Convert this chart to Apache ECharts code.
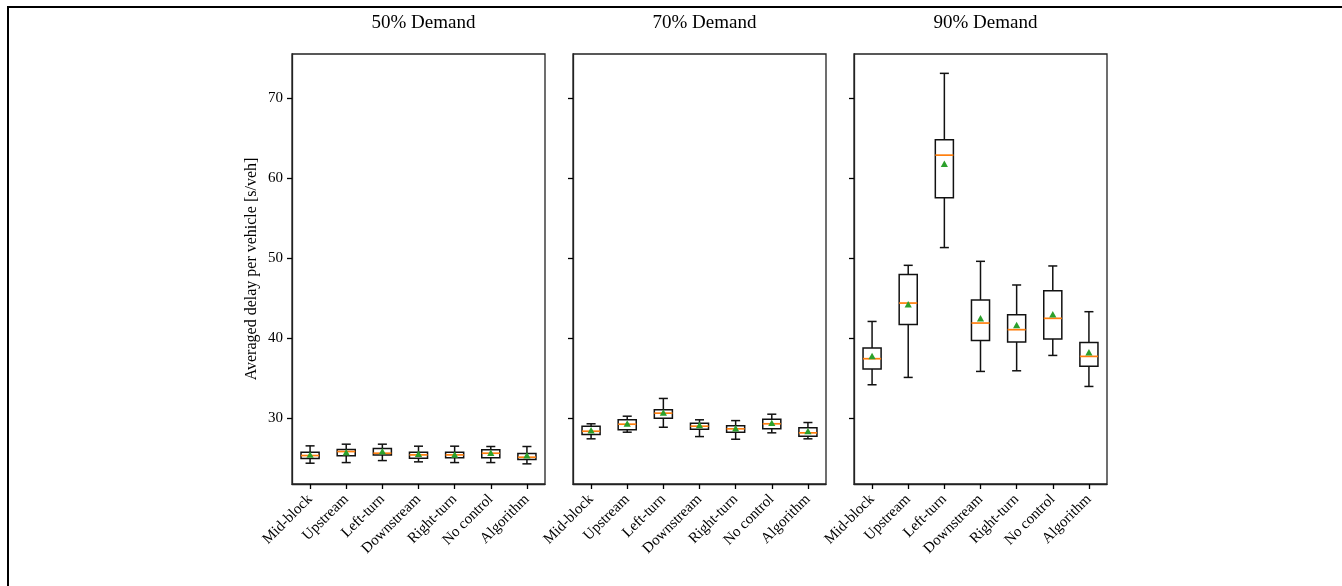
<!DOCTYPE html>
<html>
<head>
<meta charset="utf-8">
<script src="https://cdn.jsdelivr.net/npm/echarts@6/dist/echarts.min.js"></script>
<style>html,body{margin:0;padding:0;background:#fff}#c{width:1342px;height:586px}</style>
</head>
<body>
<div id="c"></div>
<script>
const categories = ['Mid-block','Upstream','Left-turn','Downstream','Right-turn','No control','Algorithm'];
const panelTitles = ['50% Demand','70% Demand','90% Demand'];
const yTicks = [30, 40, 50, 60, 70];

// 50% demand
const lo50   = [24.37, 24.45, 24.70, 24.54, 24.45, 24.45, 24.29];
const q1_50  = [24.95, 25.29, 25.40, 24.99, 25.04, 25.04, 24.83];
const med50  = [25.33, 25.83, 25.62, 25.41, 25.41, 25.62, 25.12];
const q3_50  = [25.74, 26.08, 26.20, 25.74, 25.74, 26.04, 25.58];
const hi50   = [26.54, 26.75, 26.75, 26.50, 26.50, 26.46, 26.46];
const mean50 = [25.40, 25.70, 25.83, 25.50, 25.41, 25.62, 25.33];

// 70% demand
const lo70   = [27.42, 28.25, 28.87, 27.70, 27.37, 28.17, 27.42];
const q1_70  = [27.96, 28.55, 30.00, 28.62, 28.25, 28.67, 27.75];
const med70  = [28.37, 29.25, 30.63, 29.00, 28.67, 29.30, 28.17];
const q3_70  = [29.00, 29.80, 31.05, 29.37, 29.04, 29.87, 28.80];
const hi70   = [29.30, 30.25, 32.47, 29.80, 29.70, 30.50, 29.46];
const mean70 = [28.45, 29.30, 30.67, 29.10, 28.70, 29.37, 28.35];

// 90% demand
const lo90   = [34.18, 35.10, 51.34, 35.85, 35.93, 37.85, 33.97];
const q1_90  = [36.14, 41.73, 57.58, 39.73, 39.52, 39.90, 36.51];
const med90  = [37.44, 44.40, 62.90, 41.90, 41.07, 42.49, 37.73];
const q3_90  = [38.77, 47.96, 64.82, 44.78, 42.95, 45.95, 39.48];
const hi90   = [42.10, 49.12, 73.13, 49.62, 46.66, 49.04, 43.32];
const mean90 = [37.73, 44.20, 61.77, 42.45, 41.60, 42.95, 38.19];

const panels = [
  [lo50, q1_50, med50, q3_50, hi50, mean50],
  [lo70, q1_70, med70, q3_70, hi70, mean70],
  [lo90, q1_90, med90, q3_90, hi90, mean90]
];

const FONT = 'Liberation Serif';
const gridLefts = [292, 573, 854];
const gridWidth = 253;
const gridTop = 54, gridHeight = 430;
const yMin = 21.77, yMax = 75.55;

function renderBox(params, api) {
  const i = api.value(0);
  const lo = api.coord([i, api.value(1)]);
  const q1 = api.coord([i, api.value(2)]);
  const med = api.coord([i, api.value(3)]);
  const q3 = api.coord([i, api.value(4)]);
  const hi = api.coord([i, api.value(5)]);
  const mean = api.coord([i, api.value(6)]);
  const band = api.size([1, 0])[0];
  const bw = band * 0.5, cw = band * 0.25;
  const x = lo[0];
  const ls = {stroke: '#111', lineWidth: 1.5, fill: null};
  const tri = 3.6;
  return {
    type: 'group',
    children: [
      {type: 'line', shape: {x1: x, y1: hi[1], x2: x, y2: q3[1]}, style: ls},
      {type: 'line', shape: {x1: x, y1: q1[1], x2: x, y2: lo[1]}, style: ls},
      {type: 'line', shape: {x1: x - cw / 2, y1: hi[1], x2: x + cw / 2, y2: hi[1]}, style: ls},
      {type: 'line', shape: {x1: x - cw / 2, y1: lo[1], x2: x + cw / 2, y2: lo[1]}, style: ls},
      {type: 'rect', shape: {x: x - bw / 2, y: q3[1], width: bw, height: q1[1] - q3[1]}, style: {stroke: '#111', lineWidth: 1.5, fill: 'rgba(0,0,0,0)'}},
      {type: 'line', shape: {x1: x - bw / 2, y1: med[1], x2: x + bw / 2, y2: med[1]}, style: {stroke: '#ff7f0e', lineWidth: 1.7}},
      {type: 'polygon', shape: {points: [[x, mean[1] - tri], [x - tri, mean[1] + tri * 0.8], [x + tri, mean[1] + tri * 0.8]]}, style: {fill: '#2ca02c', stroke: null}}
    ]
  };
}

const grid = [], xAxis = [], yAxis = [], series = [], title = [];
panels.forEach((p, k) => {
  grid.push({left: gridLefts[k], top: gridTop, width: gridWidth, height: gridHeight, show: true, borderColor: '#222', borderWidth: 1.3, backgroundColor: 'transparent'});
  title.push({text: panelTitles[k], left: gridLefts[k] + gridWidth / 2, top: 9, textAlign: 'center',
    textStyle: {fontFamily: FONT, fontSize: 19, fontWeight: 'normal', color: '#000'}});
  xAxis.push({
    type: 'category', gridIndex: k, data: categories, boundaryGap: true,
    axisLine: {show: true, lineStyle: {color: '#222', width: 1.3}},
    axisTick: {show: true, alignWithLabel: true, length: 5, lineStyle: {color: '#000', width: 1.3}},
    axisLabel: {rotate: 45, margin: 13, fontFamily: FONT, fontSize: 15, color: '#000', interval: 0},
    splitLine: {show: false}
  });
  yAxis.push({
    type: 'value', gridIndex: k, min: yMin, max: yMax,
    name: k === 0 ? 'Averaged delay per vehicle [s/veh]' : '',
    nameLocation: 'middle', nameRotate: 90, nameGap: 32,
    nameTextStyle: {fontFamily: FONT, fontSize: 16, color: '#000'},
    axisLine: {show: true, lineStyle: {color: '#222', width: 1.3}},
    axisTick: {show: true, length: 5, customValues: yTicks, lineStyle: {color: '#000', width: 1.3}},
    axisLabel: {show: k === 0, customValues: yTicks, margin: 9, fontFamily: FONT, fontSize: 15, color: '#000'},
    splitLine: {show: false}
  });
  const data = categories.map((c, i) => [i, p[0][i], p[1][i], p[2][i], p[3][i], p[4][i], p[5][i]]);
  series.push({
    type: 'custom', xAxisIndex: k, yAxisIndex: k, renderItem: renderBox,
    encode: {x: 0, y: [1, 2, 3, 4, 5, 6]}, data: data, clip: false, silent: true
  });
});

const chart = echarts.init(document.getElementById('c'), null, {renderer: 'canvas'});
chart.setOption({
  backgroundColor: '#fff',
  animation: false,
  title: title,
  grid: grid,
  xAxis: xAxis,
  yAxis: yAxis,
  series: series,
  graphic: [{
    type: 'polyline', silent: true,
    shape: {points: [[8, 586], [8, 7], [1342, 7]]},
    style: {stroke: '#000', lineWidth: 2, fill: null}
  }]
});
</script>
</body>
</html>
